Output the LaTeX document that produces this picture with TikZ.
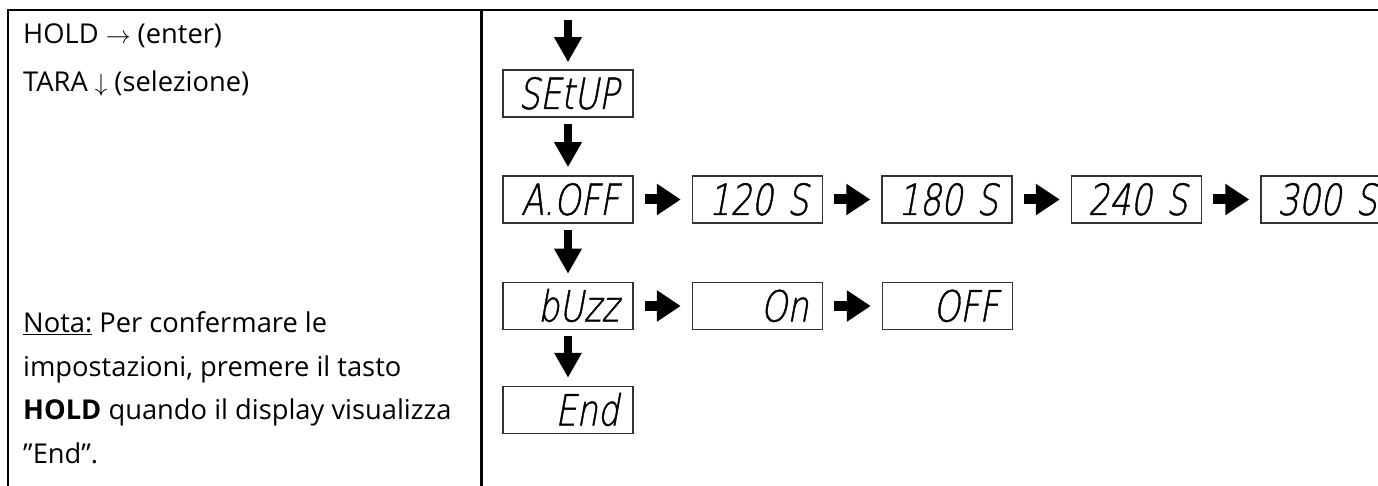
\documentclass[tikz,border=0pt]{standalone}
\usepackage{fontspec}
\setmainfont{Open Sans}
\newfontfamily\lcdfont[FakeSlant=0.18,FakeStretch=0.78,FakeBold=1]{DejaVu Sans ExtraLight}
\usetikzlibrary{arrows.meta}

\tikzset{
  lcd/.style={rectangle, draw=black!80, line width=1.5pt, text width=102pt, align=right,
    inner xsep=14pt, inner ysep=8pt, text height=31pt, text depth=0pt,
    font=\lcdfont\fontsize{43}{43}\selectfont},
  flow/.style={line width=8pt, -{Triangle[length=25pt,width=26pt]}, shorten <=6pt, shorten >=8pt},
  side/.style={line width=10pt, -{Triangle[length=24pt,width=30pt]}, shorten <=11pt, shorten >=11pt},
  grid line/.style={line width=2.5pt},
  cell text/.style={anchor=base west, inner sep=0pt, align=left, font=\fontsize{27.3}{43.5}\selectfont}
}

\begin{document}
\begin{tikzpicture}[x=1pt,y=-1pt]
    \useasboundingbox (0,0) rectangle (1378,486);
    \clip (0,0) rectangle (1378,486);

    \draw[grid line] (1400,10) -- (8,10) -- (8,500);
    \draw[grid line] (481.5,10) -- (481.5,500);

    \node[cell text, font=\fontsize{27.3}{48}\selectfont] (keys) at (23,92) {HOLD $\rightarrow$ (enter)\\TARA $\downarrow$ (selezione)};
    \node[cell text] (note) at (23,463) {\underline{Nota:} Per confermare le\\impostazioni, premere il tasto\\\textbf{HOLD} quando il display visualizza\\”End”.};

    \node[lcd] (setup) at (568,93.5) {SEtUP};
    \node[lcd] (aoff) at (568,199.5) {A.OFF};
    \node[lcd] (buzz) at (568,306) {bUzz};
    \node[lcd] (end) at (568,410) {End};
    \foreach \val [count=\i] in {120,180,240,300}
        \node[lcd] (t\val) at (568+189.5*\i,199.5) {\val\ S};
    \node[lcd] (on) at (757.5,306) {On};
    \node[lcd] (off) at (947.5,306) {OFF};

    \coordinate (entry) at (568,20);
    \draw[flow, shorten <=0pt, shorten >=7pt] (entry) -- (setup);
    \foreach \a/\b in {setup/aoff, aoff/buzz, buzz/end}
        \draw[flow] (\a) -- (\b);
    \foreach \a/\b in {aoff/t120, t120/t180, t180/t240, t240/t300, buzz/on, on/off}
        \draw[side] (\a) -- (\b);
\end{tikzpicture}
\end{document}
